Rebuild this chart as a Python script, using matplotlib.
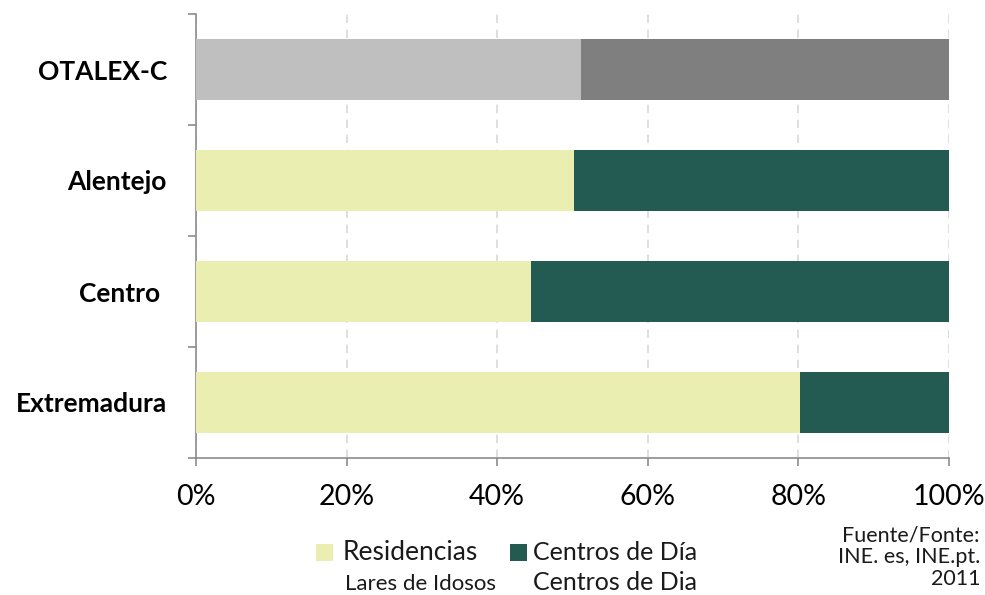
import matplotlib
matplotlib.use("Agg")
import matplotlib.pyplot as plt
from matplotlib.patches import Rectangle

plt.rcParams['font.family'] = ['Lato', 'DejaVu Sans']

regions = ["OTALEX-C", "Alentejo", "Centro ", "Extremadura"]
residencias = [51.1, 50.2, 44.5, 80.2]
centros = [48.9, 49.8, 55.5, 19.8]
light_colors = ["#BFBFBF", "#EAEFB1", "#EAEFB1", "#EAEFB1"]
dark_colors = ["#7F7F7F", "#235B52", "#235B52", "#235B52"]
xticks = [0, 20, 40, 60, 80, 100]
xtick_labels = ["0%", "20%", "40%", "60%", "80%", "100%"]

fig = plt.figure(figsize=(9.85, 5.95), dpi=100)
ax = fig.add_axes([196/985, 1 - 458/595, (949 - 196)/985, (458 - 14)/595])

n = len(regions)
ypos = [n - 1 - i for i in range(n)]
ax.barh(ypos, residencias, height=0.55, color=light_colors, zorder=3)
ax.barh(ypos, centros, left=residencias, height=0.55, color=dark_colors, zorder=3)

ax.set_xlim(0, 100)
ax.set_ylim(-0.5, n - 0.5)
ax.set_xticks(xticks)
ax.set_xticklabels(xtick_labels, fontsize=20.5)
ax.xaxis.grid(True, linestyle=(0, (5, 4)), color="#D9D9D9", linewidth=1.2, zorder=0)

# category labels centred in each band, tick marks on band boundaries
ax.set_yticks(ypos)
ax.set_yticklabels(regions, fontsize=19, fontweight="bold")
ax.tick_params(axis="y", which="major", length=0, pad=21)
ax.set_yticks([y - 0.5 for y in range(n + 1)], minor=True)
ax.tick_params(axis="y", which="minor", length=6, width=1.2, color="#8C8C8C")
ax.tick_params(axis="x", length=6, width=1.2, color="#8C8C8C", pad=13)

for side in ["top", "right"]:
    ax.spines[side].set_visible(False)
for side in ["left", "bottom"]:
    ax.spines[side].set_color("#8C8C8C")
    ax.spines[side].set_linewidth(1.2)

# legend drawn in figure pixels
W, H = 985, 595
def fx(px):
    return px / W
def fy(py):
    return 1 - py / H

fig.patches.append(Rectangle((fx(316), fy(561)), 17/W, 17/H, transform=fig.transFigure,
                             facecolor="#EAEFB1", edgecolor="none"))
fig.patches.append(Rectangle((fx(510), fy(561)), 17/W, 17/H, transform=fig.transFigure,
                             facecolor="#235B52", edgecolor="none"))
fig.text(fx(343), fy(553), "Residencias", fontsize=19, va="center", ha="left", color="#1a1a1a")
fig.text(fx(533), fy(553), "Centros de Día", fontsize=18, va="center", ha="left", color="#1a1a1a")
fig.text(fx(345), fy(584), "Lares de Idosos", fontsize=16, va="center", ha="left", color="#1a1a1a")
fig.text(fx(533), fy(582), "Centros de Dia", fontsize=18, va="center", ha="left", color="#1a1a1a")

fig.text(fx(980), fy(557), "Fuente/Fonte:\nINE. es, INE.pt.\n2011", fontsize=15.5,
         ha="right", va="center", linespacing=1.12, multialignment="right", color="#1a1a1a")

fig.savefig("out.png", dpi=100)
